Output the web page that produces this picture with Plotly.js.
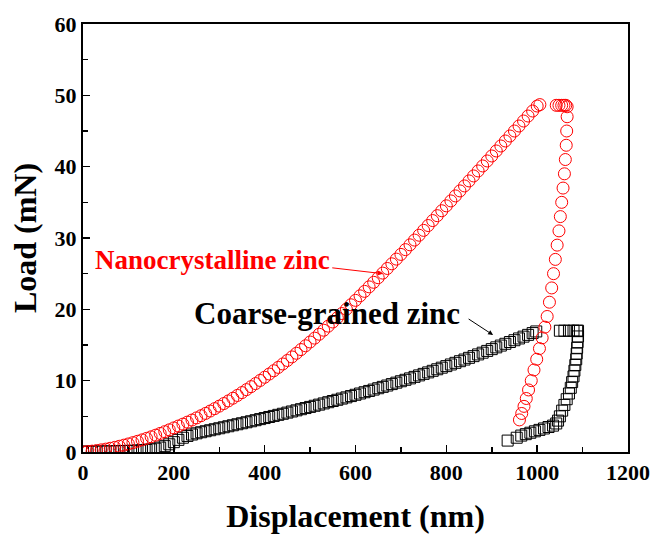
<!DOCTYPE html>
<html>
<head>
<meta charset="utf-8">
<script src="https://cdn.plot.ly/plotly-3.0.1.min.js"></script>
<style>html,body{margin:0;padding:0;background:#fff;}#chart{width:656px;height:535px;}</style>
</head>
<body>
<div id="chart"></div>
<script>
// Nanocrystalline zinc: loading branch (displacement nm, load mN)
const nanoLoadD = [0,10,20,30,40,50,60,70,80,90,100,110,120,130,140,150,160,170,180,190,200,210,220,230,240,250,260,270,280,290,300,310,320,330,340,350,360,370,380,390,400,410,420,430,440,450,460,470,480,490,500,510,520,530,540,550,560,570,580,590,600,610,620,630,640,650,660,670,680,690,700,710,720,730,740,750,760,770,780,790,800,810,820,830,840,850,860,870,880,890,900,910,920,930,940,950,960,970,980,990,1000,1006];
const nanoLoadL = [0.00,0.05,0.12,0.20,0.30,0.40,0.52,0.65,0.80,0.96,1.13,1.31,1.50,1.70,1.91,2.13,2.36,2.60,2.85,3.11,3.38,3.64,3.91,4.19,4.48,4.78,5.09,5.41,5.74,6.08,6.43,6.79,7.16,7.54,7.93,8.33,8.74,9.16,9.59,10.03,10.48,10.93,11.39,11.86,12.34,12.83,13.33,13.84,14.36,14.89,15.42,15.96,16.51,17.07,17.64,18.22,18.81,19.41,20.02,20.64,21.26,21.89,22.52,23.15,23.79,24.43,25.08,25.73,26.38,27.04,27.70,28.37,29.04,29.71,30.39,31.07,31.75,32.44,33.13,33.82,34.51,35.20,35.90,36.60,37.30,38.00,38.70,39.40,40.10,40.80,41.50,42.20,42.90,43.60,44.30,45.00,45.70,46.40,47.10,47.80,48.50,48.70];
// Nanocrystalline zinc: hold + unloading branch
const nanoUnloadD = [1042,1048,1054,1059,1063,1066,1066,1065,1064,1062,1060,1057,1054,1051,1048,1044,1040,1036,1032,1027,1022,1017,1011,1005,999,993,987,981,976,971,966,961];
const nanoUnloadL = [48.6,48.6,48.6,48.6,48.6,48.4,47.0,45.0,43.0,41.0,39.0,37.0,35.0,33.0,31.0,29.0,27.0,25.0,23.0,21.0,19.0,17.5,16.0,14.5,13.0,11.5,10.0,8.7,7.5,6.4,5.4,4.5];
// Coarse-grained zinc: loading branch
const coarseLoadD = [0,10,20,30,40,50,60,70,80,90,100,110,120,130,140,150,160,170,180,190,200,210,220,230,240,250,260,270,280,290,300,310,320,330,340,350,360,370,380,390,400,410,420,430,440,450,460,470,480,490,500,510,520,530,540,550,560,570,580,590,600,610,620,630,640,650,660,670,680,690,700,710,720,730,740,750,760,770,780,790,800,810,820,830,840,850,860,870,880,890,900,910,920,930,940,950,960,970,980,990,998];
const coarseLoadL = [0.05,0.05,0.06,0.07,0.08,0.09,0.10,0.11,0.12,0.14,0.16,0.18,0.21,0.25,0.30,0.37,0.47,0.62,0.82,1.08,1.38,1.70,2.00,2.25,2.45,2.62,2.77,2.91,3.05,3.19,3.33,3.47,3.61,3.75,3.89,4.03,4.17,4.31,4.46,4.61,4.76,4.91,5.06,5.21,5.36,5.52,5.68,5.84,6.00,6.16,6.32,6.48,6.64,6.81,6.98,7.15,7.32,7.49,7.66,7.84,8.02,8.20,8.38,8.56,8.75,8.94,9.13,9.32,9.52,9.72,9.92,10.12,10.32,10.53,10.74,10.95,11.16,11.38,11.60,11.82,12.04,12.27,12.50,12.73,12.96,13.20,13.44,13.68,13.92,14.17,14.42,14.67,14.92,15.17,15.42,15.67,15.92,16.17,16.42,16.67,16.90];
// Coarse-grained zinc: hold + unloading branch
const coarseUnloadD = [1050,1060,1070,1080,1088,1090,1090,1089,1088,1087,1086,1084,1082,1080,1077,1074,1070,1065,1060,1055,1050,1046,1042,1035,1025,1015,1005,995,985,975,965,955,935];
const coarseUnloadL = [17.0,17.0,17.0,17.0,17.0,17.0,16.2,15.4,14.6,13.8,13.0,12.2,11.4,10.6,9.8,9.0,8.2,7.4,6.6,5.8,5.0,4.4,4.0,3.7,3.5,3.3,3.1,2.9,2.7,2.5,2.3,2.0,1.6];

const xTickVals = [0,200,400,600,800,1000,1200];
const yTickVals = [0,10,20,30,40,50,60];
const labelNano = 'Nanocrystalline zinc';
const labelCoarse = 'Coarse-grained zinc';

const FONT = 'Liberation Serif, Times New Roman, serif';
const red = '#ff0000';

const traces = [
  {x: coarseLoadD, y: coarseLoadL, mode: 'markers', type: 'scatter',
   marker: {symbol: 'square-open', size: 11, color: '#000', line: {width: 1, color: '#000'}}},
  {x: coarseUnloadD, y: coarseUnloadL, mode: 'markers', type: 'scatter',
   marker: {symbol: 'square-open', size: 11, color: '#000', line: {width: 1, color: '#000'}}},
  {x: nanoLoadD, y: nanoLoadL, mode: 'markers', type: 'scatter',
   marker: {symbol: 'circle-open', size: 12, color: red, line: {width: 1, color: red}}},
  {x: nanoUnloadD, y: nanoUnloadL, mode: 'markers', type: 'scatter',
   marker: {symbol: 'circle-open', size: 12, color: red, line: {width: 1, color: red}}}
];

const axisCommon = {
  showgrid: false, zeroline: false, showline: true, linecolor: '#000', linewidth: 2,
  mirror: true, ticks: 'inside', ticklen: 7, tickwidth: 1.5, tickcolor: '#000',
  tickfont: {family: FONT, size: 22, color: '#000', weight: 'bold'}
};

const layout = {
  width: 656, height: 535,
  margin: {l: 83, r: 28, t: 24, b: 83},
  paper_bgcolor: '#fff', plot_bgcolor: '#fff',
  showlegend: false,
  xaxis: Object.assign({}, axisCommon, {
    range: [0, 1200], tickvals: xTickVals, ticktext: xTickVals.map(String),
    minor: {dtick: 100, ticks: 'inside', ticklen: 5, tickwidth: 1.5, tickcolor: '#000'},
    title: {text: '<b>Displacement (nm)</b>', font: {family: FONT, size: 32, color: '#000'}, standoff: 20}
  }),
  yaxis: Object.assign({}, axisCommon, {
    range: [0, 60], tickvals: yTickVals, ticktext: yTickVals.map(String),
    minor: {dtick: 5, ticks: 'inside', ticklen: 5, tickwidth: 1.5, tickcolor: '#000'},
    title: {text: '<b>Load (mN)</b>', font: {family: FONT, size: 32, color: '#000'}, standoff: 8}
  }),
  annotations: [
    {x: 22, y: 26.9, xref: 'x', yref: 'y', text: '<b>' + labelNano + '</b>', showarrow: false,
     xanchor: 'left', yanchor: 'middle', font: {family: FONT, size: 27, color: red}},
    {x: 660, y: 25.0, xref: 'x', yref: 'y', text: '', showarrow: true, ax: -52, ay: -6,
     arrowcolor: red, arrowwidth: 1, arrowhead: 2, arrowsize: 1},
    {x: 240, y: 19.4, xref: 'x', yref: 'y', text: '<b>' + labelCoarse + '</b>', showarrow: false,
     xanchor: 'left', yanchor: 'middle', font: {family: FONT, size: 31, color: '#000'}},
    {x: 903, y: 16.4, xref: 'x', yref: 'y', text: '', showarrow: true, ax: -26, ay: -17,
     arrowcolor: '#000', arrowwidth: 1, arrowhead: 2, arrowsize: 1}
  ]
};

Plotly.newPlot('chart', traces, layout, {displayModeBar: false, staticPlot: true});
</script>
</body>
</html>
